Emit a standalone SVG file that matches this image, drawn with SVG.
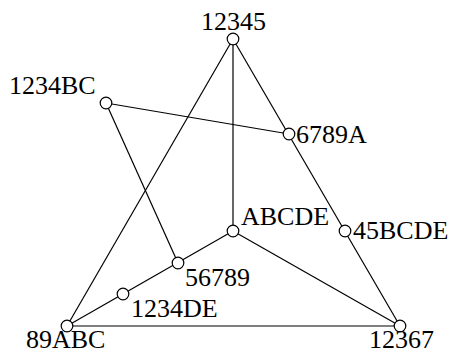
<svg xmlns="http://www.w3.org/2000/svg" width="457" height="354" viewBox="0 0 457 354">
<style>
.e{stroke:#000;stroke-width:1.2;fill:none}
.n{fill:#fff;stroke:#000;stroke-width:1.2}
.t{font-family:'Liberation Serif','DejaVu Serif',serif;font-size:26px;fill:#000}
</style>
<rect width="457" height="354" fill="#fff"/>
<g id="edges">
<line class="e" x1="233" y1="39" x2="67" y2="326"/>
<line class="e" x1="233" y1="39" x2="400" y2="326"/>
<line class="e" x1="233" y1="39" x2="233" y2="231"/>
<line class="e" x1="67" y1="326" x2="400" y2="326"/>
<line class="e" x1="106" y1="103" x2="289" y2="134"/>
<line class="e" x1="106" y1="103" x2="178" y2="263"/>
<line class="e" x1="233" y1="231" x2="400" y2="326"/>
<line class="e" x1="67" y1="326" x2="233" y2="231"/>
</g>
<g id="n12345"><circle class="n" cx="233" cy="39" r="5.8"/><text class="t" x="201" y="30">12345</text></g>
<g id="n1234BC"><circle class="n" cx="106" cy="103" r="5.8"/><text class="t" x="9" y="94">1234BC</text></g>
<g id="n6789A"><circle class="n" cx="289" cy="134" r="5.8"/><text class="t" x="296" y="143">6789A</text></g>
<g id="nABCDE"><circle class="n" cx="233" cy="231" r="5.8"/><text class="t" x="241" y="225">ABCDE</text></g>
<g id="n45BCDE"><circle class="n" cx="345" cy="231" r="5.8"/><text class="t" x="353" y="239">45BCDE</text></g>
<g id="n56789"><circle class="n" cx="178" cy="263" r="5.8"/><text class="t" x="185" y="286">56789</text></g>
<g id="n1234DE"><circle class="n" cx="123" cy="294" r="5.8"/><text class="t" x="131" y="317">1234DE</text></g>
<g id="n89ABC"><circle class="n" cx="67" cy="326" r="5.8"/><text class="t" x="26" y="348">89ABC</text></g>
<g id="n12367"><circle class="n" cx="400" cy="326" r="5.8"/><text class="t" x="369" y="348">12367</text></g>
</svg>
